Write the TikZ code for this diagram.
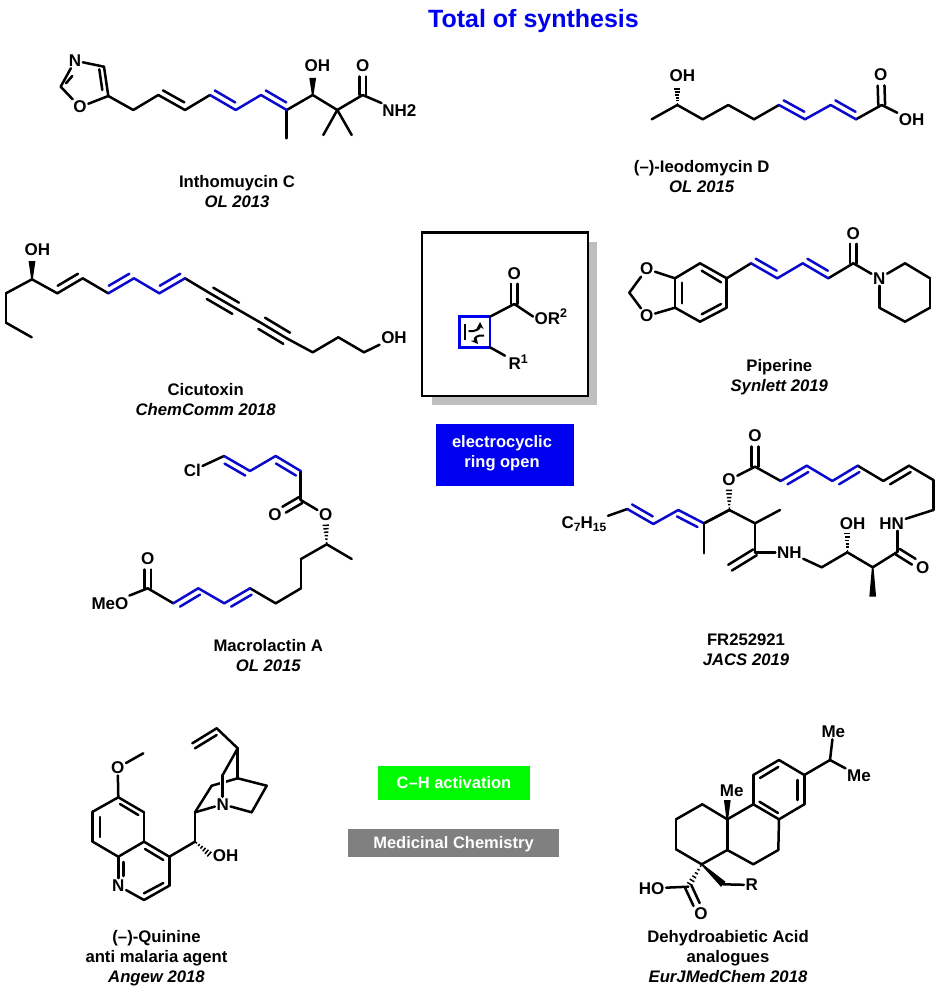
\documentclass[tikz,border=0pt]{standalone}
\usepackage{fontspec}
\setmainfont{Liberation Sans}
\usetikzlibrary{calc,arrows.meta}
\definecolor{chemblue}{HTML}{0A0ACD}
\definecolor{shadowgray}{HTML}{BEBEBE}
\definecolor{tagblue}{HTML}{0000F0}
\definecolor{taggreen}{HTML}{00FA00}
\definecolor{taggray}{HTML}{808080}
\tikzset{
    bond/.style={line width=2.5pt,line cap=round,line join=round,black},
    bluebond/.style={bond,chemblue},
    atomlbl/.style={font=\fontsize{17}{19}\selectfont\bfseries,inner sep=1.5pt},
    caption/.style={font=\fontsize{16.7}{20}\selectfont\bfseries,align=center,inner sep=0pt},
    tagbox/.style={font=\fontsize{16.5}{20}\selectfont\bfseries,align=center,text=white,inner sep=0pt}
}
% a = end where the inner line runs full length
\newcommand{\dbond}[4][bond]{
    \draw[#1] (#2) -- (#3);
    \draw[#1] ($(#2)!0.06!(#3)!6.3pt!#4:(#3)$) -- ($(#2)!0.86!(#3)!6.3pt!#4:(#3)$);
}
\newcommand{\cbond}[3][10.5pt]{
    \draw[bond,shorten >=#1] ($(#2)!3.4pt!90:(#3)$) -- ($(#3)!3.4pt!-90:(#2)$);
    \draw[bond,shorten >=#1] ($(#2)!3.4pt!-90:(#3)$) -- ($(#3)!3.4pt!90:(#2)$);
}
\newcommand{\tbond}[2]{
    \draw[bond] (#1) -- (#2);
    \draw[bond] ($(#1)!6.5pt!90:(#2)$) -- ($(#2)!6.5pt!-90:(#1)$);
    \draw[bond] ($(#1)!6.5pt!-90:(#2)$) -- ($(#2)!6.5pt!90:(#1)$);
}
\newcommand{\wedgebond}[2]{
    \fill ($(#1)!0.8pt!90:(#2)$) -- ($(#2)!3.4pt!-90:(#1)$) -- ($(#2)!3.4pt!90:(#1)$) -- ($(#1)!0.8pt!-90:(#2)$) -- cycle;
}
\newcommand{\hashbond}[2]{
    \foreach \t in {0.08,0.24,...,1} {
        \pgfmathsetmacro\w{0.5+\t*3}
        \draw[line width=1.5pt] ($(#1)!\t!(#2)!\w pt!90:(#2)$) -- ($(#1)!\t!(#2)!\w pt!-90:(#2)$);
    }
}
\newcommand{\subs}[1]{\raisebox{-3pt}{\fontsize{12}{12}\selectfont #1}}
\newcommand{\sups}[1]{\raisebox{6.5pt}{\fontsize{12.5}{12}\selectfont #1}}
\begin{document}
\begin{tikzpicture}[x=1pt,y=-1pt]
    \useasboundingbox (0,0) rectangle (942,992);
    \node[font=\fontsize{25}{28}\selectfont\bfseries,text=tagblue,inner sep=0pt] (title) at (533.5,21) {Total of synthesis};

    % Inthomuycin C
    \foreach \n/\x/\y in {i1/60.7/86.7,i2/104/66.7,i3/108.3/96,i4/133.3/110,i5/158.3/95,i6/185/110,i7/210/95,
        i8/235.7/110,i9/261/95,i10/286.7/110,i11/312.7/95,i12/337.3/110,i13/362.7/95,i14/286.7/138.3,
        i15/323.3/135,i16/351.7/135,i17/312.7/78} {
        \coordinate (\n) at (\x,\y);
    }
    \node[atomlbl] (iN) at (75,60.7) {N};
    \node[atomlbl] (iO) at (80,107) {O};
    \node[atomlbl] (iOH) at (317.3,66) {OH};
    \node[atomlbl] (iOc) at (362.7,66) {O};
    \node[atomlbl] (iNH) at (399.3,110.7) {NH2};
    \foreach \a/\b in {iN/i2,i3/iO,iO/i1,i3/i4,i4/i5,i6/i7,i10/i11,i11/i12,i12/i13,i10/i14,i12/i15,i12/i16,i13/iNH} {
        \draw[bond] (\a) -- (\b);
    }
    \draw[bond] (i1) -- (iN);
    \draw[bond] (66,83.3) -- (72.3,76);
    \draw[bond] (i2) -- (i3);
    \draw[bond] (99.3,69.3) -- (102.3,90);
    \dbond{i5}{i6}{90}
    \dbond[bluebond]{i7}{i8}{90}
    \draw[bluebond] (i8) -- (i9);
    \dbond[bluebond]{i9}{i10}{90}
    \wedgebond{i11}{i17}
    \cbond{i13}{iOc}
    \node[caption] (iCap) at (237,191.5) {Inthomuycin C\\{\itshape OL 2013}};

    % Ieodomycin D
    \foreach \n/\x/\y in {d1/651.7/119.3,d2/677.3/105,d3/702.7/119.3,d4/728.3/105,d5/754/119.3,d6/779/105,
        d7/805/119.3,d8/830.7/105,d9/856/119.3,d10/881.7/105,d11/677.3/87} {
        \coordinate (\n) at (\x,\y);
    }
    \node[atomlbl] (dOH) at (682.3,75.7) {OH};
    \node[atomlbl] (dOc) at (880.7,75) {O};
    \node[atomlbl] (dOH2) at (911.7,120) {OH};
    \foreach \a/\b in {d1/d2,d2/d3,d3/d4,d4/d5,d5/d6,d9/d10,d10/dOH2} {
        \draw[bond] (\a) -- (\b);
    }
    \dbond[bluebond]{d6}{d7}{90}
    \draw[bluebond] (d7) -- (d8);
    \dbond[bluebond]{d8}{d9}{90}
    \hashbond{d2}{d11}
    \cbond{d10}{dOc}
    \node[caption] (dCap) at (701.7,176.7) {(--)-Ieodomycin D\\{\itshape OL 2015}};

    % Cicutoxin
    \foreach \n/\x/\y in {c1/31.7/337.3,c2/6/322.7,c3/6/293.3,c4/32/279.3,c5/57.3/293.3,c6/82.7/278.3,c7/108.3/293.3,
        c8/134/278.3,c9/159.3/293.3,c10/185/278.3,c11/210/293.3,c12/235.7/308.3,c13/261.7/323.3,c14/286.7/338.3,
        c15/312.7/352.3,c16/338.3/337.3,c17/364/352.3,c18/32/261} {
        \coordinate (\n) at (\x,\y);
    }
    \node[atomlbl] (cOH) at (37.3,249.3) {OH};
    \node[atomlbl] (cOH2) at (394,337.7) {OH};
    \foreach \a/\b in {c1/c2,c2/c3,c3/c4,c4/c5,c6/c7,c10/c11,c12/c13,c14/c15,c15/c16,c16/c17,c17/cOH2} {
        \draw[bond] (\a) -- (\b);
    }
    \dbond{c6}{c5}{-90}
    \dbond[bluebond]{c8}{c7}{-90}
    \draw[bluebond] (c8) -- (c9);
    \dbond[bluebond]{c10}{c9}{-90}
    \tbond{c11}{c12}
    \tbond{c13}{c14}
    \wedgebond{c4}{c18}
    \node[caption] (cCap) at (205.7,400) {Cicutoxin\\{\itshape ChemComm 2018}};

    % central box
    \fill[shadowgray] (432.3,241.7) rectangle (596.7,405);
    \node[draw,line width=2.4pt,fill=white,minimum width=166pt,minimum height=163.7pt,inner sep=0pt] (frame) at (504.7,314.2) {};
    \foreach \n/\x/\y in {s1/490/316.7,s2/490/347.3,s3/514.3/304} {
        \coordinate (\n) at (\x,\y);
    }
    \draw[line width=2.6pt,tagblue] (459.3,316.7) rectangle (s2);
    \node[atomlbl] (sO) at (514.3,273.3) {O};
    \node[atomlbl,anchor=west] (sOR) at (533,316.5) {OR\sups{2}};
    \node[atomlbl,anchor=west] (sR) at (507,362) {R\sups{1}};
    \draw[bond] (s1) -- (s3);
    \draw[bond] (s3) -- (sOR.west);
    \draw[bond] (s2) -- (505,355.7);
    \cbond{s3}{sO}
    \draw[line width=2.2pt] (465,324.3) -- (465,340);
    \draw[line width=2pt,-{Stealth[length=7pt,width=7pt]}] (468.5,331) .. controls (475,332) and (480,329) .. (480,322);
    \draw[line width=2pt,-{Stealth[length=7pt,width=7pt]}] (484,335.5) .. controls (478,334.5) and (473,338) .. (478,344);

    % tag boxes
    \fill[tagblue] (436,424) rectangle (574,486);
    \node[tagbox] (tagRing) at (502,453.5) {electrocyclic\\ring open};
    \node[tagbox,fill=taggreen,minimum width=152pt,minimum height=34pt] (tagCH) at (454,783) {C--H activation};
    \node[tagbox,fill=taggray,minimum width=211pt,minimum height=28pt,text height=11pt,text depth=0pt] (tagMed) at (453.5,843) {Medicinal Chemistry};

    % Piperine
    \foreach \n/\x/\y in {p1/629.3/292.7,p2/675/278.3,p3/700/263.3,p4/726.7/278.3,p5/726.7/307.7,p6/700/321.7,p7/675/307.7,
        p8/751/263.3,p9/777.3/278.3,p10/802.7/263.3,p11/828.3/278.3,p12/853.3/263.3,p13/905/263.3,p14/930/278.3,
        p15/930/307.7,p16/905/321.7,p17/879.3/307.7} {
        \coordinate (\n) at (\x,\y);
    }
    \node[atomlbl] (pO) at (646.7,269) {O};
    \node[atomlbl] (pO2) at (646.7,316) {O};
    \node[atomlbl] (pOc) at (853.3,233.3) {O};
    \node[atomlbl] (pN) at (879.3,278.3) {N};
    \foreach \a/\b in {p1/pO,p1/pO2,pO/p2,pO2/p7,p2/p3,p3/p4,p5/p6,p6/p7,p4/p8,p11/p12,p12/pN,pN/p13,p13/p14,p14/p15,p15/p16,p16/p17,p17/pN} {
        \draw[bond] (\a) -- (\b);
    }
    \draw[bond] (p4) -- (p5);
    \draw[bond] (p7) -- (p2);
    \draw[bond] (682,282.7) -- (682,303.3);
    \draw[bond] (701.7,270.7) -- (721,282.3);
    \draw[bond] (721,304) -- (701.7,314.3);
    \dbond[bluebond]{p8}{p9}{90}
    \draw[bluebond] (p9) -- (p10);
    \dbond[bluebond]{p10}{p11}{90}
    \cbond{p12}{pOc}
    \node[caption] (pCap) at (779.3,377.5) {Piperine\\{\itshape Synlett 2019}};

    % Macrolactin A
    \foreach \n/\x/\y in {m1/224/456,m2/250/471,m3/275.7/456,m4/300.7/471,m5/300.7/500,m6/326.7/544.3,m7/351.7/559,
        m8/301/559,m9/301/588.3,m10/275.7/603.3,m11/250/588.3,m12/224.3/603.3,m13/198.3/588.3,m14/173.3/603.3,m15/147.7/588.3} {
        \coordinate (\n) at (\x,\y);
    }
    \node[atomlbl] (mCl) at (192.3,470.7) {Cl};
    \node[atomlbl] (mO) at (275,515) {O};
    \node[atomlbl] (mOe) at (325.7,515) {O};
    \node[atomlbl] (mOc) at (147.7,559) {O};
    \node[atomlbl] (mMeO) at (110,603.3) {MeO};
    \foreach \a/\b in {mCl/m1,m4/m5,m5/mOe,m6/m7,m6/m8,m8/m9,m9/m10,m10/m11,m14/m15,m15/mMeO} {
        \draw[bond] (\a) -- (\b);
    }
    \dbond[bluebond]{m2}{m1}{90}
    \draw[bluebond] (m2) -- (m3);
    \dbond[bluebond]{m4}{m3}{90}
    \dbond[bluebond]{m11}{m12}{90}
    \draw[bluebond] (m12) -- (m13);
    \dbond[bluebond]{m13}{m14}{90}
    \hashbond{m6}{mOe.south}
    \cbond{m5}{mO}
    \cbond{m15}{mOc}
    \node[caption] (mCap) at (268.3,655.5) {Macrolactin A\\{\itshape OL 2015}};

    % FR252921
    \foreach \n/\x/\y in {f1/755/466.7,f2/780.7/481,f3/806.7/465.7,f4/832.3/481,f5/857.7/465.7,f6/883.3/481,f7/909/465.7,
        f8/933.3/480,f9/933.3/510,f10/897.7/551.7,f11/872.7/567.3,f12/872.7/596.7,f13/847.3/552.3,f14/821.7/567.3,
        f15/755/552.3,f16/730/567.7,f17/755/523.3,f18/780/510,f19/729.3/510,f20/704/523.3,f21/704/553.3,f22/678.3/510,
        f23/653.3/524,f24/627.3/509} {
        \coordinate (\n) at (\x,\y);
    }
    \node[atomlbl] (fO) at (755,436) {O};
    \node[atomlbl] (fOe) at (729,480) {O};
    \node[atomlbl] (fHN) at (891.7,523.3) {HN};
    \node[atomlbl] (fOa) at (922.7,567.3) {O};
    \node[atomlbl] (fOH) at (852.7,523.3) {OH};
    \node[atomlbl] (fNH) at (789.3,552.3) {NH};
    \node[atomlbl] (fC) at (584,524.3) {C\subs{7}H\subs{15}};
    \foreach \a/\b in {f1/fOe,f1/f2,f5/f6,f7/f8,f8/f9,f9/fHN,f10/f11,f11/f13,f13/f14,f14/fNH,f15/fNH,f15/f17,f17/f18,f17/f19,f19/f20,f20/f21,f24/fC} {
        \draw[bond] (\a) -- (\b);
    }
    \draw[bond] (f10) -- (f10 |- fHN.south);
    \dbond[bluebond]{f3}{f2}{90}
    \draw[bluebond] (f3) -- (f4);
    \dbond[bluebond]{f5}{f4}{90}
    \dbond{f7}{f6}{90}
    \dbond[bluebond]{f24}{f23}{90}
    \draw[bluebond] (f23) -- (f22);
    \dbond[bluebond]{f22}{f20}{-90}
    \draw[bond] (f20) -- (f19);
    \cbond{f1}{fO}
    \cbond{f10}{fOa}
    \cbond[0pt]{f15}{f16}
    \wedgebond{f11}{f12}
    \hashbond{f13}{fOH.south -| f13}
    \hashbond{f19}{fOe.south}
    \node[caption] (fCap) at (746,649.5) {FR252921\\{\itshape JACS 2019}};

    % Quinine
    \foreach \n/\x/\y in {q1/143.3/753.3,q2/118.3/797.3,q3/144/812.3,q4/144/841.7,q5/118.3/856.7,q6/92.7/841.7,q7/92.7/811.7,
        q8/144/900,q9/169.3/885.7,q10/169.3/856.7,q11/195/841.7,q12/195/812.3,q13/211.7/785.7,q14/222.7/775,q15/237.7/748.3,
        q16/237.7/778.3,q17/266.7/785.7,q18/251.7/812.3,q19/216.7/728.3,q20/192.3/743.3,q21/214/855} {
        \coordinate (\n) at (\x,\y);
    }
    \node[atomlbl] (qO) at (117.7,767.7) {O};
    \node[atomlbl] (qN) at (118.3,885.7) {N};
    \node[atomlbl] (qNb) at (222.7,804.3) {N};
    \node[atomlbl] (qOH) at (225.7,855.7) {OH};
    \foreach \a/\b in {qO/q1,qO/q2,q2/q3,q3/q4,q4/q5,q5/q6,q6/q7,q7/q2,q5/qN,qN/q8,q8/q9,q9/q10,q10/q4,q10/q11,q11/q12,q12/qNb,q12/q13,q13/q16,q16/q17,q17/q18,q18/qNb,q15/q16,q15/q14,q15/q19} {
        \draw[bond] (\a) -- (\b);
    }
    \draw[white,line width=6pt] (q14) -- (qNb);
    \draw[bond] (q14) -- (qNb);
    \draw[bond] (q19) -- (q20);
    \draw[bond] (216.7,735) -- (195,748.3);
    \draw[bond] (120,804) -- (138.3,815);
    \draw[bond] (100,817) -- (100,837);
    \draw[bond] (145,849) -- (163.3,860);
    \draw[bond] (123.5,862) -- (123.5,876);
    \draw[bond] (144,893.3) -- (163.3,883);
    \hashbond{q11}{qOH.west}
    \node[caption] (qCap) at (156.5,958) {(--)-Quinine\\anti malaria agent\\{\itshape Angew 2018}};

    % Dehydroabietic Acid
    \foreach \n/\x/\y in {a1/830/760,a2/804.3/775,a3/804.3/804.3,a4/779/819.3,a5/753.3/804.3,a6/753.3/775,a7/779/760,
        a8/727.3/819.3,a9/727.3/850,a10/702.3/804.3,a11/676/819.3,a12/676/849.3,a13/701.7/864.3,a14/753.3/864.3,
        a15/778.3/850,a16/723.3/884.3,a17/688.3/886.7,a18/727.3/800} {
        \coordinate (\n) at (\x,\y);
    }
    \node[atomlbl] (aMe) at (833.3,731.7) {Me};
    \node[atomlbl] (aMe2) at (859,775.7) {Me};
    \node[atomlbl] (aMe3) at (731.7,791) {Me};
    \node[atomlbl] (aR) at (751.7,885) {R};
    \node[atomlbl] (aHO) at (651.7,888.3) {HO};
    \node[atomlbl] (aO) at (701,914) {O};
    \foreach \a/\b in {a1/aMe,a1/aMe2,a1/a2,a2/a3,a3/a4,a4/a5,a5/a6,a6/a7,a7/a2,a5/a8,a8/a9,a9/a13,a9/a14,a14/a15,a15/a4,a8/a10,a10/a11,a11/a12,a12/a13,a16/aR,a17/aHO} {
        \draw[bond] (\a) -- (\b);
    }
    \draw[bond] (778.3,767) -- (760,778);
    \draw[bond] (797.7,780) -- (797.7,800);
    \draw[bond] (759.5,801.7) -- (778,813);
    \wedgebond{a8}{a18}
    \wedgebond{a13}{a16}
    \hashbond{a13}{a17}
    \cbond{a17}{aO}
    \node[caption] (aCap) at (728,957) {Dehydroabietic Acid\\analogues\\{\itshape EurJMedChem 2018}};
\end{tikzpicture}
\end{document}
